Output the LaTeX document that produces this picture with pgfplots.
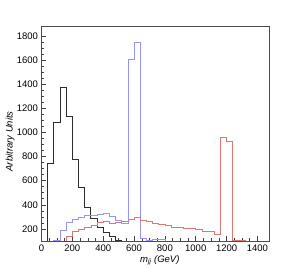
\documentclass[border=0pt]{standalone}
\usepackage{fontspec}
\setmainfont{Liberation Sans}
\usepackage{pgfplots}
\pgfplotsset{compat=1.18}
\definecolor{hblue}{RGB}{150,150,250}
\definecolor{hred}{RGB}{222,118,118}
\definecolor{hblack}{RGB}{45,45,45}
\begin{document}
\begin{tikzpicture}
\path[use as bounding box] (-41.5pt,-29pt) rectangle (242.5pt,241pt);
\begin{axis}[
  at={(0pt,0pt)}, anchor=south west,
  scale only axis, width=227.5pt, height=214.3pt,
  xmin=0, xmax=1475, ymin=100, ymax=1875,
  xtick={0,200,...,1400}, ytick={200,400,...,1800},
  minor x tick num=3, minor y tick num=3,
  tick align=inside, xtick pos=left, ytick pos=left,
  major tick length=5pt, minor tick length=2.6pt,
  tick style={black!75, line width=0.5pt},
  axis line style={black!70, line width=0.6pt},
  scaled ticks=false,
  /pgf/number format/assume math mode=true,
  /pgf/number format/1000 sep={},
  tick label style={font=\fontsize{9.5}{11}\selectfont},
  xlabel={\itshape m\textsubscript{jj} (GeV)},
  ylabel={\itshape Arbitrary Units},
  label style={font=\fontsize{9.5}{11}\selectfont},
  xlabel style={at={(axis description cs:0.52,-0.09)}, anchor=center},
  ylabel style={at={(axis description cs:-0.138,0.465)}, anchor=center},
  const plot,
]
\addplot[hblack, line width=1.0pt] coordinates {
(0,0)(40,740)(80,1080)(120,1372)(160,1132)(200,778)(240,545)(280,380)(320,290)(360,213)(400,170)(440,135)(480,103)(520,60)(560,40)(600,25)(640,15)(680,10)(720,5)(760,0)(1475,0)};
\addplot[hblue, line width=0.7pt] coordinates {
(0,0)(40,60)(80,102)(120,185)(160,255)(200,282)(240,296)(280,314)(320,310)(360,320)(400,325)(440,302)(480,274)(520,245)(560,1605)(600,1745)(640,118)(680,108)(720,110)(760,114)(800,60)(840,40)(880,30)(920,20)(960,10)(1475,10)};
\addplot[hred, line width=0.7pt] coordinates {
(0,0)(120,0)(160,135)(200,182)(240,195)(280,212)(320,232)(360,255)(400,265)(440,245)(480,255)(520,262)(560,282)(600,295)(640,272)(680,265)(720,250)(760,242)(800,230)(840,215)(880,213)(920,208)(960,205)(1000,198)(1040,180)(1080,178)(1120,155)(1160,960)(1200,928)(1240,108)(1280,105)(1320,60)(1360,40)(1400,20)(1440,10)(1475,10)};
\end{axis}
\end{tikzpicture}
\end{document}
